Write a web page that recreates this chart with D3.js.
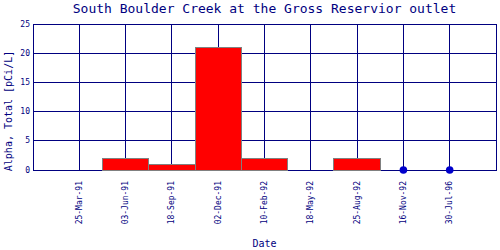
<!DOCTYPE html>
<html><head><meta charset="utf-8">
<script src="https://cdn.jsdelivr.net/npm/d3@7"></script>
<style>body{margin:0;background:#fff}svg{display:block}text{font-family:"DejaVu Sans Mono",monospace;fill:#000080}</style>
</head><body>
<script>
const categories = ["25-Mar-91","03-Jun-91","18-Sep-91","02-Dec-91","10-Feb-92","18-May-92","25-Aug-92","16-Nov-92","30-Jul-96"];
const values = [0, 2, 1, 21, 2, 0, 2, 0, 0];
const markerDates = ["16-Nov-92","30-Jul-96"];
const markerValues = [0, 0];
const yTicks = [0, 5, 10, 15, 20, 25];
const title = "South Boulder Creek at the Gross Reservior outlet";
const yLabel = "Alpha, Total [pCi/L]";
const xLabel = "Date";

const W = 500, H = 250;
const L = 33, R = 496, T = 24, B = 170;
const svg = d3.select("body").append("svg").attr("width", W).attr("height", H);
const step = (R - L) / (categories.length + 1);
const x = d3.scalePoint().domain(categories).range([L + step, R - step]);
const y = d3.scaleLinear().domain([0, 25]).range([B, T]);
const navy = "#000080";

// horizontal grid
svg.append("g").selectAll("line").data(yTicks).join("line")
  .attr("x1", L).attr("x2", R).attr("y1", d => y(d)).attr("y2", d => y(d))
  .attr("stroke", navy).attr("stroke-width", 1).attr("shape-rendering", "crispEdges");
// vertical grid
svg.append("g").selectAll("line").data(categories).join("line")
  .attr("x1", d => x(d)).attr("x2", d => x(d)).attr("y1", T).attr("y2", B)
  .attr("stroke", navy).attr("shape-rendering", "crispEdges");
// border
svg.append("rect").attr("x", L).attr("y", T).attr("width", R - L).attr("height", B - T)
  .attr("fill", "none").attr("stroke", navy).attr("shape-rendering", "crispEdges");

// bars
const bw = x.step();
svg.append("g").selectAll("rect").data(categories.map((c, i) => ({c, v: values[i]}))).join("rect")
  .attr("x", d => x(d.c) - bw / 2).attr("width", bw)
  .attr("y", d => y(d.v)).attr("height", d => y(0) - y(d.v))
  .attr("fill", "#ff0000").attr("stroke", "#808080").attr("stroke-width", 1)
  .attr("shape-rendering", "crispEdges");

// markers
svg.append("g").selectAll("circle").data(markerDates.map((c, i) => ({c, v: markerValues[i]}))).join("circle")
  .attr("cx", d => x(d.c)).attr("cy", d => y(d.v)).attr("r", 3.8).attr("fill", "#0000cc");

// y tick labels
svg.append("g").selectAll("text").data(yTicks).join("text")
  .attr("x", L - 3).attr("y", d => y(d)).attr("dy", "0.32em")
  .attr("text-anchor", "end").attr("font-size", 8).text(d => d);

// x tick labels
svg.append("g").selectAll("text").data(categories).join("text")
  .attr("transform", d => `translate(${x(d)},${B + 11}) rotate(-90)`)
  .attr("dy", "0.32em").attr("text-anchor", "end").attr("font-size", 8).text(d => d);

// title
svg.append("text").attr("x", (L + R) / 2).attr("y", 13).attr("text-anchor", "middle")
  .attr("font-size", 13).text(title);
// axis labels
svg.append("text").attr("x", (L + R) / 2).attr("y", 247).attr("text-anchor", "middle")
  .attr("font-size", 10).text(xLabel);
svg.append("text").attr("transform", `translate(9,${(T + B) / 2 + 14}) rotate(-90)`)
  .attr("dy", "0.32em").attr("text-anchor", "middle").attr("font-size", 10).text(yLabel);
</script>
</body></html>
